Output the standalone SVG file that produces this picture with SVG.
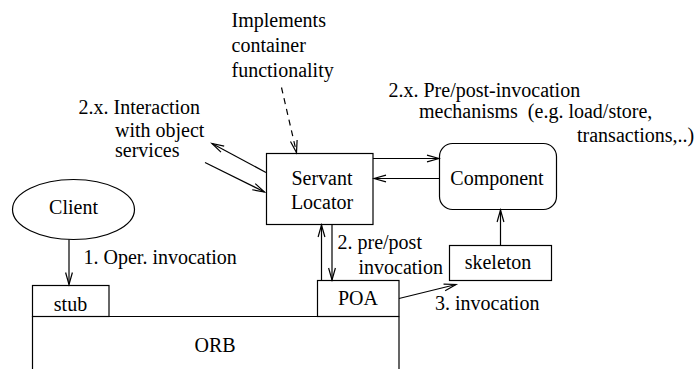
<svg xmlns="http://www.w3.org/2000/svg" width="695" height="369" viewBox="0 0 695 369" font-family="'Liberation Serif', 'Times New Roman', Times, serif" font-size="20">
  <style>
    .shape { fill: #fff; stroke: #000; stroke-width: 1.2; }
    .edge { fill: none; stroke: #000; stroke-width: 1.2; }
    .dash { stroke-dasharray: 6 5; }
    .t { font-family: 'Liberation Serif', 'Times New Roman', Times, serif; font-size: 20px; fill: #000; }
    .mid { text-anchor: middle; }
  </style>
  <defs>
    <!-- open "V" arrowhead shared by all connectors -->
    <marker id="open" markerUnits="userSpaceOnUse" markerWidth="15" markerHeight="10" viewBox="-13 -5 15 10" refX="0" refY="0" orient="auto">
      <path d="M-12,-3.4 L0,0 L-12,3.4" fill="none" stroke="#000" stroke-width="1.2"/>
    </marker>
  </defs>

  <!-- ORB with stub and POA -->
  <g id="orb">
    <path class="edge" d="M32.5,369 V316.5 H317.5 M399,316.5 V369"/>
    <text class="t mid" x="215" y="352">ORB</text>
  </g>
  <g id="stub">
    <rect class="shape" x="32.5" y="285.5" width="76.5" height="31"/>
    <text class="t mid" x="70.5" y="311">stub</text>
  </g>
  <g id="poa">
    <rect class="shape" x="317.5" y="280.5" width="81.5" height="36"/>
    <text class="t mid" x="358" y="305">POA</text>
  </g>

  <!-- Client -->
  <g id="client">
    <ellipse class="shape" cx="73.5" cy="209.5" rx="61" ry="30"/>
    <text class="t mid" x="73.5" y="214">Client</text>
  </g>

  <!-- Servant Locator -->
  <g id="servant-locator">
    <rect class="shape" x="266.5" y="153.5" width="106.5" height="71"/>
    <text class="t mid" x="322" y="184.5">Servant</text>
    <text class="t mid" x="322" y="209">Locator</text>
  </g>

  <!-- Component -->
  <g id="component">
    <rect class="shape" x="439.5" y="143.5" width="117" height="66" rx="13" ry="13"/>
    <text class="t mid" x="497" y="185">Component</text>
  </g>

  <!-- skeleton -->
  <g id="skeleton">
    <rect class="shape" x="449.5" y="245.5" width="102" height="35"/>
    <text class="t mid" x="498" y="269">skeleton</text>
  </g>

  <!-- Connectors -->
  <g id="connectors">
    <line class="edge" x1="69" y1="239.5" x2="69" y2="284.5" marker-end="url(#open)"/>
    <line class="edge" x1="321.5" y1="280.5" x2="321.5" y2="225" marker-end="url(#open)"/>
    <line class="edge" x1="332" y1="224.5" x2="332" y2="280" marker-end="url(#open)"/>
    <line class="edge" x1="399" y1="298.5" x2="456" y2="284.5" marker-end="url(#open)"/>
    <line class="edge" x1="500.5" y1="245.5" x2="500.5" y2="210" marker-end="url(#open)"/>
    <line class="edge" x1="373" y1="158.5" x2="439" y2="158.5" marker-end="url(#open)"/>
    <line class="edge" x1="439.5" y1="178.5" x2="374" y2="178.5" marker-end="url(#open)"/>
    <line class="edge" x1="266" y1="172.5" x2="212" y2="143.5" marker-end="url(#open)"/>
    <line class="edge" x1="205" y1="162.5" x2="264.5" y2="192" marker-end="url(#open)"/>
    <line class="edge dash" x1="281.5" y1="87.5" x2="296.5" y2="152.5" marker-end="url(#open)"/>
  </g>

  <!-- Labels -->
  <g id="labels">
    <text class="t" x="231.5" y="27">Implements</text>
    <text class="t" x="231.5" y="52">container</text>
    <text class="t" x="231.5" y="77">functionality</text>
    <text class="t" x="78.5" y="113.5">2.x. Interaction</text>
    <text class="t" x="115" y="137">with object</text>
    <text class="t" x="115" y="157">services</text>
    <text class="t" x="388.5" y="97">2.x. Pre/post-invocation</text>
    <text class="t" x="419" y="117.5" xml:space="preserve">mechanisms  (e.g. load/store,</text>
    <text class="t" x="577" y="142">transactions,..)</text>
    <text class="t" x="83.5" y="264">1. Oper. invocation</text>
    <text class="t" x="337.5" y="248.5">2. pre/post</text>
    <text class="t" x="358.5" y="273.5">invocation</text>
    <text class="t" x="435" y="310">3. invocation</text>
  </g>
</svg>
